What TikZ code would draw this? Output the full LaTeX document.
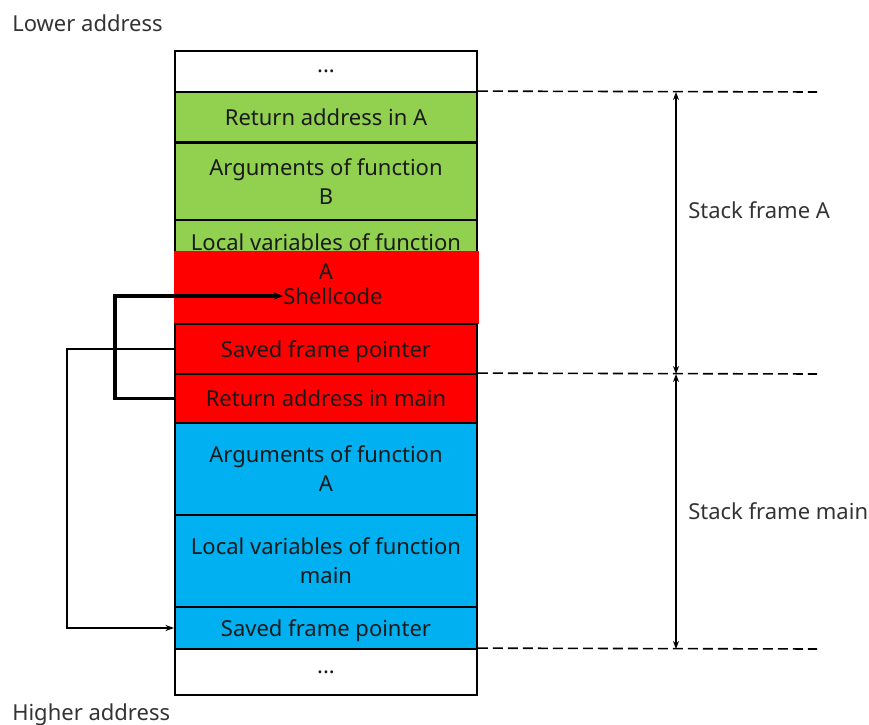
\documentclass[tikz,border=0pt]{standalone}
\usepackage{fontspec}
\setmainfont{Noto Sans}
\usetikzlibrary{arrows.meta}
\definecolor{cgreen}{HTML}{92D050}
\definecolor{cred}{HTML}{FF0000}
\definecolor{cblue}{HTML}{00B0F0}
\definecolor{ink}{HTML}{1A1A1A}
\definecolor{labelink}{HTML}{333333}
\newcommand{\cellfont}{\fontsize{16.5}{21.75}\selectfont}
\begin{document}
\begin{tikzpicture}[x=0.75pt,y=-0.75pt,
  cell/.style={draw=black,line width=1.3pt,minimum width=226.5pt,inner sep=0pt,
    align=center,font=\cellfont,text=ink,text depth=0pt},
  tall/.style={minimum height=#1*0.75pt},
  plain/.style={inner sep=0pt,align=center,font=\cellfont,text=ink},
  side/.style={inner sep=0pt,anchor=base west,font=\cellfont,text=labelink},
  guide/.style={draw=black,line width=1.2pt,dash pattern=on 7.5pt off 3.75pt},
  span/.style={draw=black,line width=1.1pt,{Stealth[length=6pt,width=4.5pt]}-{Stealth[length=6pt,width=4.5pt]}},
  hijack/.style={draw=black,line width=2.3pt,-{Stealth[length=7pt,width=5.5pt]}},
  link/.style={draw=black,line width=1.1pt,-{Stealth[length=6.5pt,width=4.5pt]}}]
\useasboundingbox (0,0) rectangle (869,725);

% stack cells, lower addresses on top
\node[cell,tall=41,fill=white] (top) at (326,71.5) {...};
\node[cell,tall=50,fill=cgreen] (retA) at (326,117) {Return address in A};
\node[cell,tall=78,fill=cgreen] (argB) at (326,182) {Arguments of function\\B};
\node[cell,tall=104,fill=cgreen] (locA) at (326,272) {};
% overflowed part of the local buffer
\fill[cred] (174,251) rectangle (479,324);
\node[plain] (locAtxt) at (326,257) {Local variables of function\\A};
\node[plain] (shell) at (333,296) {Shellcode};
\node[cell,tall=50,fill=cred] (sfpA) at (326,349) {Saved frame pointer};
\node[cell,tall=49,fill=cred] (retM) at (326,398.5) {Return address in main};
\node[cell,tall=92,fill=cblue] (argA) at (326,469) {Arguments of function\\A};
\node[cell,tall=92,fill=cblue] (locM) at (326,561) {Local variables of function\\main};
\node[cell,tall=42,fill=cblue] (sfpM) at (326,628) {Saved frame pointer};
\node[cell,tall=46,fill=white] (bot) at (326,672) {...};

% address direction labels
\node[side] (lower) at (12,31.5) {Lower address};
\node[side] (higher) at (12,720) {Higher address};

% frame boundaries
\coordinate (gA) at (817,92);
\coordinate (gM) at (817,374);
\coordinate (gE) at (817,649);
\draw[guide] (retA.north east) -- (gA);
\draw[guide] (retM.north east) -- (gM);
\draw[guide] (bot.north east) -- (gE);

\coordinate (sA1) at (676,92);
\coordinate (sA2) at (676,374);
\coordinate (sM2) at (676,649);
\draw[span] (sA1) -- (sA2);
\draw[span] (sA2) -- (sM2);
\node[side] (frameA) at (688,218) {Stack frame A};
\node[side] (frameM) at (688,519) {Stack frame main};

% overwritten return address jumps into the shellcode
\draw[hijack] (retM.west) -| (115,296) -- (shell.west);
% saved frame pointer chain
\draw[link] (sfpA.west) -| (67,628) -- (sfpM.west);
\end{tikzpicture}
\end{document}
